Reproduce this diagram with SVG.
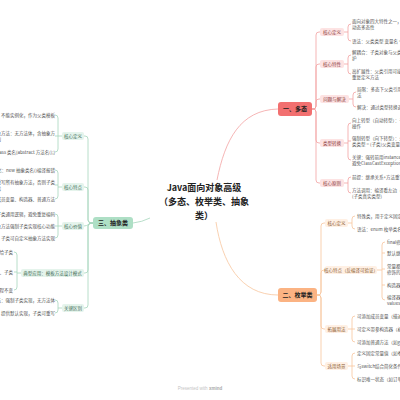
<svg xmlns="http://www.w3.org/2000/svg" width="400" height="400" viewBox="0 0 400 400">
<style>
text{font-family:"Noto Sans CJK SC","Noto Sans",sans-serif}
.title{font-size:9px;font-weight:bold;fill:#222}
.node{font-size:6px;font-weight:bold;fill:#222}
.lbl{font-size:4.5px}
.leaf{font-size:4.5px;fill:#555}
.r{fill:none;stroke:#f2a2a2;stroke-width:0.8}
.o{fill:none;stroke:#f7c59d;stroke-width:0.8}
.g{fill:none;stroke:#a6d6bc;stroke-width:0.8}
.rb{fill:#fde3e3}
.ob{fill:#fff0e4}
.gb{fill:#e5f4ec}
.rt{fill:#8a3b3b}
.ot{fill:#8a5a30}
.gt{fill:#3e6b55}
</style>
<rect width="400" height="400" fill="#ffffff"/>

<g id="connectors">
<path class="r" d="M217 180 C225 140 240 110 278 109"/>
<path class="o" d="M216 222 C222 262 240 295 278 295"/>
<path class="g" d="M133 223 Q142 222 150 218"/>
<path class="r" d="M312 109 H313 Q316 109 316 106 V35 Q316 32 319 32 H320 M312 109 H313 Q316 109 316 106 V67 Q316 64 319 64 H320 M312 109 H313 Q316 109 316 106 V102 Q316 99 319 99 H320 M312 109 H313 Q316 109 316 112 V140 Q316 143 319 143 H320 M312 109 H313 Q316 109 316 112 V180 Q316 183 319 183 H320"/>
<path class="r" d="M344 32 H348 M351 24 Q348 24 348 27 V38 Q348 41 351 41"/>
<path class="r" d="M344 64 H348 M351 55 Q348 55 348 58 V71 Q348 74 351 74"/>
<path class="r" d="M349 99 H353 M356 92 Q353 92 353 95 V104 Q353 107 356 107"/>
<path class="r" d="M344 143 H348 M351 123 Q348 123 348 126 V157 Q348 160 351 160 M348 141 H351"/>
<path class="r" d="M344 183 H348 M351 177 Q348 177 348 180 V190 Q348 193 351 193"/>
<path class="o" d="M317 295 H318 Q321 295 321 292 V226 Q321 223 324 223 H325 M317 295 H318 Q321 295 321 292 V273 Q321 270 324 270 H325 M317 295 H318 Q321 295 321 298 V326 Q321 329 324 329 H325 M317 295 H318 Q321 295 321 298 V363 Q321 366 324 366 H325"/>
<path class="o" d="M348 223 H352 M355 216 Q352 216 352 219 V226 Q352 229 355 229"/>
<path class="o" d="M377 270 H382 M385 242 Q382 242 382 245 V297 Q382 300 385 300 M382 253 H385 M382 269 H385 M382 285 H385"/>
<path class="o" d="M348 329 H355 M355 316 Q352 316 352 319 V339 Q352 342 355 342"/>
<path class="o" d="M348 366 H355 M355 353 Q352 353 352 356 V376 Q352 379 355 379"/>
<path class="g" d="M93 223 H92 Q88 223 88 220 V139 Q88 136 85 136 H84 M93 223 H92 Q88 223 88 220 V190 Q88 187 85 187 H84 M93 223 C89 223 88 226 84 226 M93 223 H92 Q88 223 88 226 V270 Q88 273 85 273 H84 M93 223 H92 Q88 223 88 226 V305 Q88 308 85 308 H84"/>
<path class="g" d="M62 136 H55 M55 115 Q58 115 58 118 V149 Q58 152 55 152"/>
<path class="g" d="M62 187 H58 M55 170 Q58 170 58 173 V196 Q58 199 55 199 M58 185 H55"/>
<path class="g" d="M62 226 H55 M55 214 Q58 214 58 217 V235 Q58 238 55 238"/>
<path class="g" d="M21 273 H17 M14 252 Q17 252 17 255 V287 Q17 290 14 290 M17 272 H14"/>
<path class="g" d="M62 308 H58 M55 300 Q58 300 58 303 V310 Q58 313 55 313"/>
</g>

<g id="center">
<text class="title" x="204" y="191" text-anchor="middle">Java面向对象高级</text>
<text class="title" x="204" y="205" text-anchor="middle">（多态、枚举类、抽象</text>
<text class="title" x="204" y="218.5" text-anchor="middle">类）</text>
</g>

<g id="polymorphism">
<rect x="278" y="102" width="34" height="14" rx="3" fill="#f27070"/>
<text class="node" x="295" y="111.2" text-anchor="middle">一、多态</text>
</g>
<g id="p-def"><rect class="rb" x="320" y="28" width="24" height="8" rx="2"/><text class="lbl rt" x="332" y="33.6" text-anchor="middle">核心定义</text>
<text class="leaf" x="352" y="22.6">面向对象四大特性之一，指同一行为具有多种表现形式</text>
<text class="leaf" x="352" y="28.6">动态多态性</text>
<text class="leaf" x="352" y="42.6">语法：父类类型 变量名 = new 子类类型();</text></g>
<g id="p-feat"><rect class="rb" x="320" y="60" width="24" height="8" rx="2"/><text class="lbl rt" x="332" y="65.6" text-anchor="middle">核心特性</text>
<text class="leaf" x="352" y="53.6">解耦合：子类对象与父类引用分离，便于维</text>
<text class="leaf" x="352" y="59.6">护</text>
<text class="leaf" x="352" y="72.6">高扩展性：父类引用可接收任意子类对象，无需</text>
<text class="leaf" x="352" y="78.6">重复定义方法</text></g>
<g id="p-prob"><rect class="rb" x="320" y="95" width="29" height="8" rx="2"/><text class="lbl rt" x="334.5" y="100.6" text-anchor="middle">问题与解决</text>
<text class="leaf" x="357" y="90.6">局限：多态下父类引用无法调用子类特有方</text>
<text class="leaf" x="357" y="96.6">法</text>
<text class="leaf" x="357" y="108.6">解决：通过类型转换调用子类特有方法</text></g>
<g id="p-cast"><rect class="rb" x="320" y="139" width="24" height="8" rx="2"/><text class="lbl rt" x="332" y="144.6" text-anchor="middle">类型转换</text>
<text class="leaf" x="352" y="121.6">向上转型（自动转型）：子类对象赋值给父类引用，无需额外</text>
<text class="leaf" x="352" y="127.6">操作</text>
<text class="leaf" x="352" y="139.6">强制转型（向下转型）：父类转子类，语法：子</text>
<text class="leaf" x="352" y="145.6">类类型 = (子类)父类变量</text>
<text class="leaf" x="352" y="158.6">关键：强转前用instanceof判断类型，</text>
<text class="leaf" x="352" y="164.6">避免ClassCastException</text></g>
<g id="p-rule"><rect class="rb" x="320" y="179" width="24" height="8" rx="2"/><text class="lbl rt" x="332" y="184.6" text-anchor="middle">核心原则</text>
<text class="leaf" x="352" y="178.6">前提：继承关系+方法重写+父类引用指向子类对象</text>
<text class="leaf" x="352" y="191.6">方法调用：编译看左边（父类），运行看右边</text>
<text class="leaf" x="352" y="197.6">(子类真实类型)</text></g>

<g id="enum">
<rect x="278" y="288" width="39" height="14" rx="3" fill="#fbb383"/>
<text class="node" x="297.5" y="297.2" text-anchor="middle">二、枚举类</text>
</g>
<g id="e-def"><rect class="ob" x="325" y="219" width="23" height="8" rx="2"/><text class="lbl ot" x="336.5" y="224.6" text-anchor="middle">核心定义</text>
<text class="leaf" x="357" y="217.6">特殊类，用于定义固定数量的常量对象</text>
<text class="leaf" x="357" y="230.6">语法：enum 枚举类名{常量1, 常量2, ...}</text></g>
<g id="e-feat"><rect class="ob" x="325" y="266" width="52" height="8" rx="2"/><text class="lbl ot" x="351" y="271.6" text-anchor="middle">核心特点（反编译可验证）</text>
<text class="leaf" x="387" y="243.6">final修饰，不可被继承</text>
<text class="leaf" x="387" y="254.6">默认继承java.lang.Enum</text>
<text class="leaf" x="387" y="267.6">常量都是public static final</text>
<text class="leaf" x="387" y="273.6">修饰的枚举对象</text>
<text class="leaf" x="387" y="286.6">构造器私有化</text>
<text class="leaf" x="387" y="298.6">编译器自动生成方法：</text>
<text class="leaf" x="387" y="304.6">values()、valueOf()</text></g>
<g id="e-ext"><rect class="ob" x="325" y="325" width="23" height="8" rx="2"/><text class="lbl ot" x="336.5" y="330.6" text-anchor="middle">拓展用法</text>
<text class="leaf" x="357" y="317.6">可添加成员变量（描述常量属性）</text>
<text class="leaf" x="357" y="330.6">可定义带参构造器（初始化成员变量）</text>
<text class="leaf" x="357" y="343.6">可添加普通方法（如getter方法）</text></g>
<g id="e-use"><rect class="ob" x="325" y="362" width="23" height="8" rx="2"/><text class="lbl ot" x="336.5" y="367.6" text-anchor="middle">适用场景</text>
<text class="leaf" x="357" y="354.6">定义固定常量值（如季节、星期）</text>
<text class="leaf" x="357" y="367.6">与switch结合简化条件判断</text>
<text class="leaf" x="357" y="380.6">标识唯一状态（如订单状态）</text></g>

<g id="abstract">
<rect x="93" y="217" width="40" height="12" rx="3" fill="#aedfc5"/>
<text class="node" x="113" y="225.2" text-anchor="middle">三、抽象类</text>
</g>
<g id="a-def"><rect class="gb" x="62" y="132" width="22" height="8" rx="2"/><text class="lbl gt" x="73" y="137.6" text-anchor="middle">核心定义</text>
<text class="leaf" x="55" y="116.6" text-anchor="end">抽象类：用abstract修饰，不能实例化，作为父类模板</text>
<text class="leaf" x="55" y="134.6" text-anchor="end">抽象方法：无方法体，含抽象方</text>
<text class="leaf" x="-8" y="140.6">法的</text>
<text class="leaf" x="55" y="153.6" text-anchor="end">语法：abstract class 类名{abstract 方法名();}</text></g>
<g id="a-feat"><rect class="gb" x="62" y="183" width="22" height="8" rx="2"/><text class="lbl gt" x="73" y="188.6" text-anchor="middle">核心特点</text>
<text class="leaf" x="55" y="171.6" text-anchor="end">不能实例化：new 抽象类名()编译报错</text>
<text class="leaf" x="55" y="183.6" text-anchor="end">子类必须重写所有抽象方法，否则子类</text>
<text class="leaf" x="-21.5" y="189.6">也为抽象类</text>
<text class="leaf" x="55" y="200.6" text-anchor="end">可包含成员变量、构造器、普通方法</text></g>
<g id="a-value"><rect class="gb" x="62" y="222" width="22" height="8" rx="2"/><text class="lbl gt" x="73" y="227.6" text-anchor="middle">核心价值</text>
<text class="leaf" x="55" y="215.6" text-anchor="end">抽取子类通用逻辑，避免重复编码</text>
<text class="leaf" x="55" y="227.6" text-anchor="end">通过抽象方法强制子类实现核心功能</text>
<text class="leaf" x="55" y="239.6" text-anchor="end">统一规范，子类可自定义抽象方法实现</text></g>
<g id="a-app"><rect class="gb" x="21" y="269" width="63" height="8" rx="2"/><text class="lbl gt" x="52.5" y="274.6" text-anchor="middle">典型应用：模板方法设计模式</text>
<text class="leaf" x="13" y="253.6" text-anchor="end">父类定义算法骨架，具体步骤交给子类</text>
<text class="leaf" x="13" y="273.6" text-anchor="end">代码复用：父类实现公共逻辑、子类</text>
<text class="leaf" x="13" y="291.6" text-anchor="end">扩展：子类只改变可变部分，流程不变</text></g>
<g id="a-diff"><rect class="gb" x="62" y="304" width="22" height="8" rx="2"/><text class="lbl gt" x="73" y="309.6" text-anchor="middle">关键区别</text>
<text class="leaf" x="55" y="301.6" text-anchor="end">抽象方法：强制子类实现，无方法体</text>
<text class="leaf" x="55" y="314.6" text-anchor="end">普通方法：提供默认实现，子类可重写</text></g>

<text x="200" y="390" text-anchor="middle" style="font-size:4.5px;fill:#c4c4c4;font-family:'Liberation Sans',sans-serif">Presented with <tspan font-weight="bold" fill="#aaa">xmind</tspan></text>
</svg>
